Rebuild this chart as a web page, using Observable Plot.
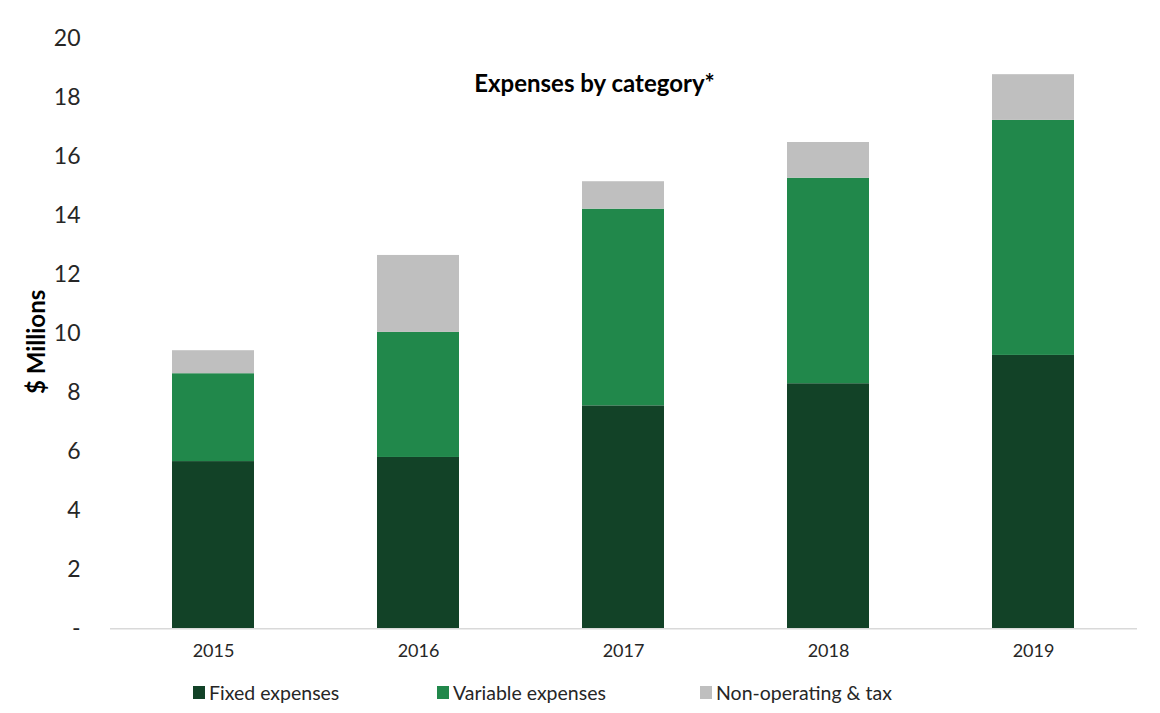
<!DOCTYPE html>
<html>
<head>
<meta charset="utf-8">
<script src="https://cdn.jsdelivr.net/npm/d3@7"></script>
<script src="https://cdn.jsdelivr.net/npm/@observablehq/plot@0.6"></script>
<style>
  html, body { margin: 0; padding: 0; background: #fff; }
  body { width: 1160px; height: 713px; overflow: hidden; font-family: Lato, "Open Sans", sans-serif; }
  #chart { position: relative; width: 1160px; }
  #legend { position: relative; width: 1160px; height: 40px; font-size: 19.5px; color: #262626; }
  .item { position: absolute; top: 9px; display: flex; align-items: center; white-space: nowrap; }
  .sw { width: 12px; height: 13px; margin-right: 4px; }
</style>
</head>
<body>
<div id="chart"></div>
<div id="legend"></div>
<script>
const years = ["2015", "2016", "2017", "2018", "2019"];
const categories = ["Fixed expenses", "Variable expenses", "Non-operating & tax"];
const fixedExp = [5.67, 5.81, 7.56, 8.31, 9.27];
const variableExp = [2.98, 4.24, 6.67, 6.97, 7.97];
const nonOperating = [0.78, 2.61, 0.93, 1.21, 1.55];
const yTicks = [0, 2, 4, 6, 8, 10, 12, 14, 16, 18, 20];
const colors = ["#124227", "#21884B", "#BFBFBF"];
const title = "Expenses by category*";
const yLabel = "$ Millions";

const series = [fixedExp, variableExp, nonOperating];
const data = [];
categories.forEach((c, ci) => years.forEach((y, yi) => data.push({year: y, category: c, value: series[ci][yi]})));

const chart = Plot.plot({
  width: 1160,
  height: 672,
  marginLeft: 110,
  marginRight: 23,
  marginTop: 38.5,
  marginBottom: 43.7,
  style: {fontFamily: "Lato, 'Open Sans', sans-serif", color: "#262626", background: "#fff"},
  x: {domain: years, paddingInner: 0.6, paddingOuter: 0.3, label: null},
  y: {domain: [0, 20], label: null},
  color: {domain: categories, range: colors},
  marks: [
    Plot.barY(data, {x: "year", y: "value", fill: "category", order: categories}),
    Plot.ruleY([0], {stroke: "#d9d9d9", strokeWidth: 1.5}),
    Plot.axisX({tickSize: 0, tickPadding: 15, fontSize: 18, label: null}),
    Plot.axisY({ticks: yTicks, tickSize: 0, tickPadding: 30, fontSize: 23, label: null,
      tickFormat: d => d === 0 ? "-" : String(d)}),
    Plot.text([title], {frameAnchor: "top-left", dx: 484, dy: 45.5, textAnchor: "middle", lineAnchor: "middle",
      fontWeight: "bold", fontSize: 24, fill: "#000"}),
    Plot.text([yLabel], {frameAnchor: "left", dx: -73, dy: 8, rotate: -90, textAnchor: "middle", lineAnchor: "middle",
      fontWeight: "bold", fontSize: 24, fill: "#000"})
  ]
});
document.getElementById("chart").appendChild(chart);

const legend = document.getElementById("legend");
const lefts = [193, 437, 700];
categories.forEach((c, i) => {
  const it = document.createElement("div");
  it.className = "item";
  it.style.left = lefts[i] + "px";
  const sw = document.createElement("span");
  sw.className = "sw";
  sw.style.background = colors[i];
  const tx = document.createElement("span");
  tx.textContent = c;
  it.appendChild(sw);
  it.appendChild(tx);
  legend.appendChild(it);
});
</script>
</body>
</html>
